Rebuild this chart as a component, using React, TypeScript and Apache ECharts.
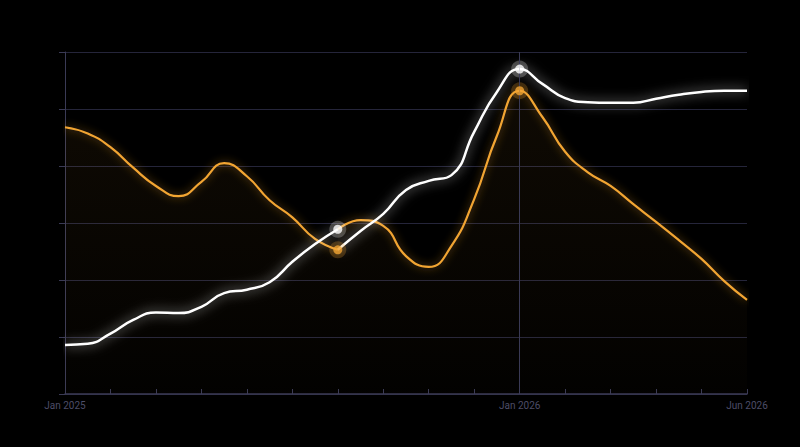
import React, { useEffect, useRef } from 'react';
import * as echarts from 'echarts';

// half-month steps on the x axis, 0 = Jan 2025
const steps = [
  0, 0.5, 1, 1.5, 2, 2.5, 3, 3.5, 4, 4.5, 5, 5.5, 6, 6.5, 7, 7.5,
  8, 8.5, 9, 9.5, 10, 10.5, 11, 11.5, 12, 12.5, 13, 13.5, 14, 14.5, 15,
];

const whiteValues = [
  8.6, 8.8, 10.6, 13.0, 14.3, 14.2, 15.3, 17.7, 18.3, 19.6, 23.2, 26.3, 28.9,
  28.6, 31.6, 35.8, 37.4, 38.4, 46.0, 53.0, 57.0,
  54.4, 51.9, 51.2, 51.1, 51.1, 51.8, 52.5, 53.0, 53.2, 53.2,
];

const orangeValues = [
  46.8, 45.7, 43.3, 39.7, 36.5, 34.7, 37.2, 40.5, 38.2, 34.0, 31.0, 27.2, 25.3,
  30.5, 29.5, 24.2, 22.3, 26.0, 34.2, 45.3, 53.2,
  48.6, 42.5, 38.9, 36.5, 33.3, 30.2, 27.0, 23.7, 19.8, 16.5,
];

// the two lines swap at this point: each one restarts where the other ended
const breakIndex = 12;
const whiteRejoin = 25.3;
const orangeRejoin = 28.9;

const highlightIndices = [12, 20];

const tickLabels: Record<number, string> = { 0: 'Jan 2025', 10: 'Jan 2026', 15: 'Jun 2026' };
const markerMonth = 10;

const ORANGE = '#f2a533';
const GRID = '#25253a';
const AXIS = '#3a3a55';

const withBreak = (vals: number[], rejoin: number) =>
  steps.flatMap((x, i) =>
    i === breakIndex ? [[x, vals[i]], [x, '-'], [x, rejoin]] : [[x, vals[i]]]
  );

const pick = (vals: number[]) => highlightIndices.map(i => [steps[i], vals[i]]);

export default function App() {
  const chartRef = useRef<HTMLDivElement>(null);

  useEffect(() => {
    document.body.style.margin = '0';
    document.body.style.background = '#000';
    if (!chartRef.current) return;
    const chart = echarts.init(chartRef.current, null, { renderer: 'svg' });

    const option: echarts.EChartsOption = {
      animation: false,
      backgroundColor: '#000',
      textStyle: { fontFamily: 'Roboto, sans-serif' },
      grid: { left: 65, right: 53, top: 52, bottom: 53 },
      xAxis: {
        type: 'value',
        min: 0,
        max: 15,
        interval: 1,
        axisLine: { show: true, lineStyle: { color: AXIS, width: 1.5 } },
        axisTick: { show: true, inside: true, length: 5, lineStyle: { color: AXIS } },
        splitLine: { show: false },
        axisLabel: {
          color: '#4d4d68',
          fontSize: 10,
          margin: 6,
          showMinLabel: true,
          showMaxLabel: true,
          formatter: (v: number) => tickLabels[v] ?? '',
        },
      },
      yAxis: {
        type: 'value',
        min: 0,
        max: 60,
        interval: 10,
        axisLine: { show: true, lineStyle: { color: AXIS } },
        axisTick: { show: true, length: 6, lineStyle: { color: AXIS } },
        axisLabel: { show: false },
        splitLine: { show: true, lineStyle: { color: GRID, width: 1 } },
      },
      series: [
        {
          name: 'orange',
          type: 'line',
          smooth: 0.5,
          showSymbol: false,
          data: withBreak(orangeValues, orangeRejoin),
          lineStyle: {
            color: ORANGE,
            width: 2.2,
            shadowBlur: 8,
            shadowColor: 'rgba(242,165,51,0.55)',
          },
          areaStyle: {
            color: new echarts.graphic.LinearGradient(0, 0, 0, 1, [
              { offset: 0, color: 'rgba(242,165,51,0.09)' },
              { offset: 1, color: 'rgba(242,165,51,0.015)' },
            ]),
          },
          markLine: {
            silent: true,
            symbol: ['none', 'none'],
            label: { show: false },
            lineStyle: { color: AXIS, type: 'solid', width: 1 },
            data: [{ xAxis: markerMonth }],
          },
          z: 2,
        },
        {
          name: 'white',
          type: 'line',
          smooth: 0.5,
          showSymbol: false,
          data: withBreak(whiteValues, whiteRejoin),
          lineStyle: {
            color: '#ffffff',
            width: 2.5,
            shadowBlur: 12,
            shadowColor: 'rgba(255,255,255,0.75)',
          },
          z: 3,
        },
        {
          type: 'scatter',
          symbolSize: 17,
          data: pick(orangeValues),
          itemStyle: { color: 'rgba(242,165,51,0.3)' },
          silent: true,
          z: 4,
        },
        {
          type: 'scatter',
          symbolSize: 9,
          data: pick(orangeValues),
          itemStyle: { color: ORANGE },
          silent: true,
          z: 5,
        },
        {
          type: 'scatter',
          symbolSize: 17,
          data: pick(whiteValues),
          itemStyle: { color: 'rgba(255,255,255,0.3)' },
          silent: true,
          z: 4,
        },
        {
          type: 'scatter',
          symbolSize: 9,
          data: pick(whiteValues),
          itemStyle: { color: '#ffffff' },
          silent: true,
          z: 5,
        },
      ],
    };

    chart.setOption(option);
    return () => chart.dispose();
  }, []);

  return <div ref={chartRef} style={{ width: 800, height: 447, background: '#000' }} />;
}
